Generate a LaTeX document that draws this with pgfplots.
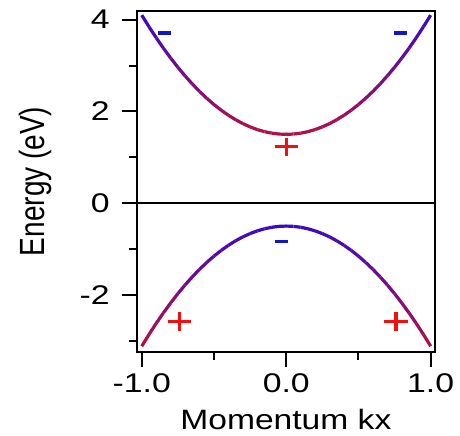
\documentclass[border=0pt]{standalone}
\usepackage{pgfplots}
\pgfplotsset{compat=1.18}
\usepackage{graphicx}
\usepackage{fontspec}
\setmainfont{Liberation Sans}
\newcommand{\hs}[1]{\scalebox{1.25}[1]{#1}}
\begin{document}
\begin{tikzpicture}
\useasboundingbox (-68.35pt,-41.65pt) rectangle (161.65pt,175.85pt);
\begin{axis}[
  at={(0,0)}, anchor=south west,
  scale only axis, width=149.15pt, height=170.35pt,
  xmin=-1.035, xmax=1.03, ymin=-3.24, ymax=4.19,
  axis line style={line width=1pt},
  tick style={line width=1pt, black},
  tick align=outside,
  major tick length=7.5pt, minor tick length=4pt,
  xtick pos=left, ytick pos=left,
  xtick={-1,0,1}, minor xtick={-0.5,0.5},
  xticklabels={\hs{-1.0},\hs{0.0},\hs{1.0}},
  ytick={-2,0,2,4}, minor ytick={-3,-1,1,3},
  yticklabels={\hs{-2},\hs{0},\hs{2},\hs{4}},
  ticklabel style={font=\fontsize{13.5}{15}\selectfont},
  yticklabel style={xshift=-2.5pt},
  xlabel={\scalebox{1.2}[1]{Momentum kx}},
  ylabel={\scalebox{1}[1.25]{Energy (eV)}},
  label style={font=\fontsize{14}{16}\selectfont},
  xlabel shift=1.5pt,
  ylabel shift=7pt,
  colormap={band}{rgb255=(178,16,70) rgb255=(58,10,196)},
  point meta min=0, point meta max=1,
  clip=false,
]
\addplot[black, line width=1pt] coordinates {(-1.035,0) (1.03,0)};
\addplot[mesh, line width=1.6pt, point meta={x*x}] table {
x y
-1.00 4.100
-0.95 3.8465
-0.90 3.606
-0.85 3.3785
-0.80 3.164
-0.75 2.9625
-0.70 2.774
-0.65 2.5985
-0.60 2.436
-0.55 2.2865
-0.50 2.150
-0.45 2.0265
-0.40 1.916
-0.35 1.8185
-0.30 1.734
-0.25 1.6625
-0.20 1.604
-0.15 1.5585
-0.10 1.526
-0.05 1.5065
0.00 1.500
0.05 1.5065
0.10 1.526
0.15 1.5585
0.20 1.604
0.25 1.6625
0.30 1.734
0.35 1.8185
0.40 1.916
0.45 2.0265
0.50 2.150
0.55 2.2865
0.60 2.436
0.65 2.5985
0.70 2.774
0.75 2.9625
0.80 3.164
0.85 3.3785
0.90 3.606
0.95 3.8465
1.00 4.100
};
\addplot[mesh, line width=1.6pt, point meta={1-x*x}] table {
x y
-1.00 -3.120
-0.95 -2.8646
-0.90 -2.6222
-0.85 -2.393
-0.80 -2.1768
-0.75 -1.9738
-0.70 -1.7838
-0.65 -1.607
-0.60 -1.4432
-0.55 -1.2926
-0.50 -1.155
-0.45 -1.0306
-0.40 -0.9192
-0.35 -0.821
-0.30 -0.7358
-0.25 -0.6638
-0.20 -0.6048
-0.15 -0.559
-0.10 -0.5262
-0.05 -0.5066
0.00 -0.500
0.05 -0.5066
0.10 -0.5262
0.15 -0.559
0.20 -0.6048
0.25 -0.6638
0.30 -0.7358
0.35 -0.821
0.40 -0.9192
0.45 -1.0306
0.50 -1.155
0.55 -1.2926
0.60 -1.4432
0.65 -1.607
0.70 -1.7838
0.75 -1.9738
0.80 -2.1768
0.85 -2.393
0.90 -2.6222
0.95 -2.8646
1.00 -3.120
};
\addplot[only marks, mark=+, mark size=4.6pt, color={rgb,255:red,240;green,16;blue,16},
  mark options={xscale=1.25, line width=1.6pt}] coordinates {(0.0,1.23) (-0.74,-2.58) (0.76,-2.58)};
\addplot[only marks, mark=-, mark size=2.6pt, color={rgb,255:red,20;green,20;blue,200},
  mark options={xscale=1.25, line width=1.8pt}] coordinates {(-0.84,3.71) (0.79,3.71) (-0.03,-0.84)};
\end{axis}
\end{tikzpicture}
\end{document}
